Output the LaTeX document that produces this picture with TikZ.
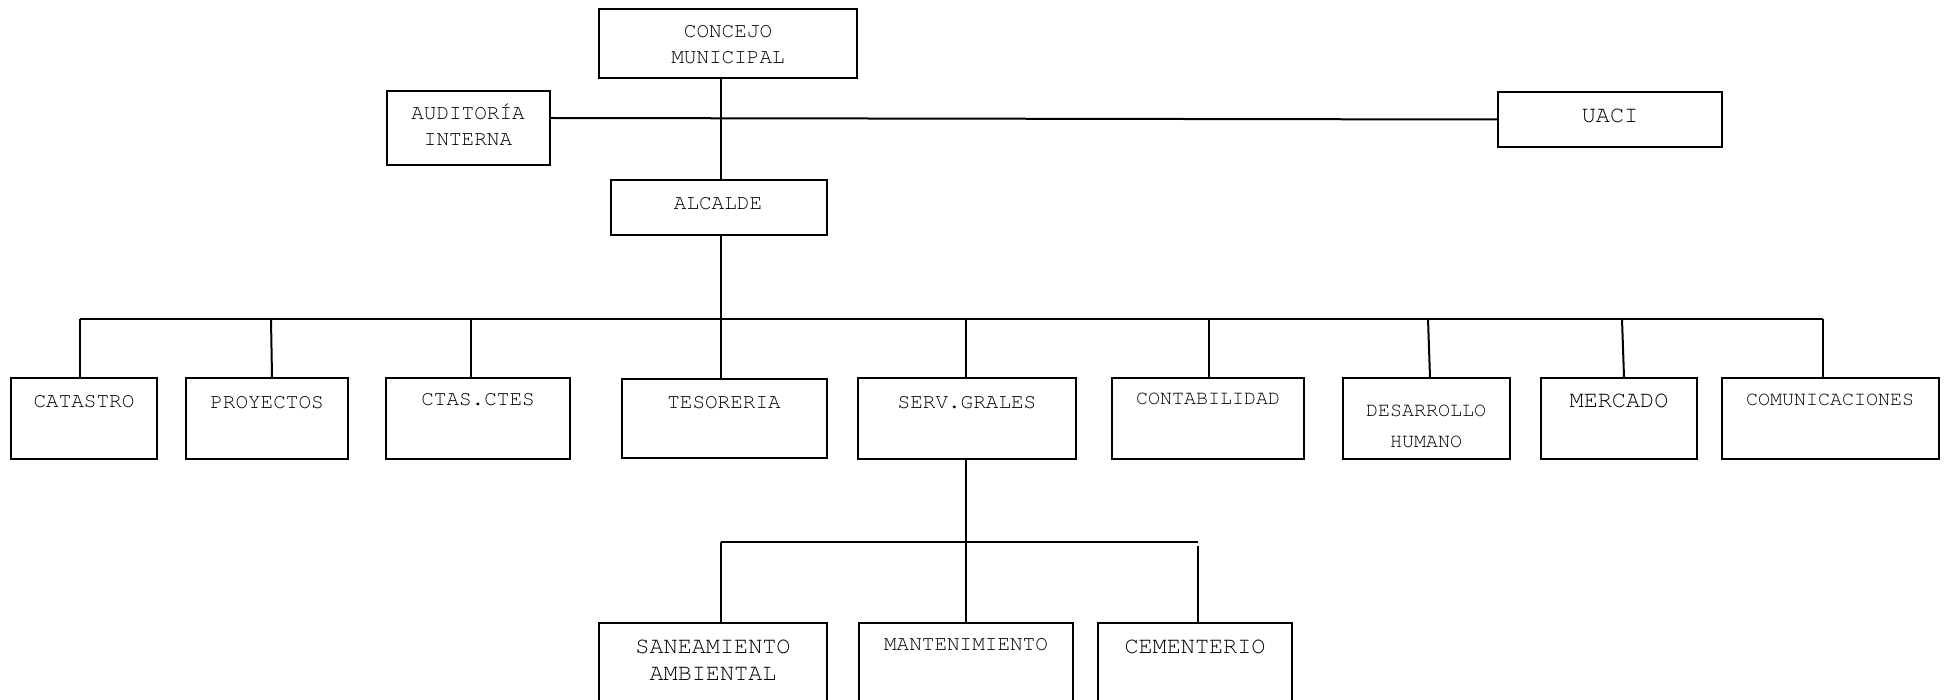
\documentclass[tikz,border=0pt]{standalone}
\usepackage{fontspec}
\newfontfamily\cour{TeX Gyre Cursor}
\usetikzlibrary{fit}
\begin{document}
\begin{tikzpicture}[x=0.5pt,y=-0.5pt,
  box/.style={draw=black,line width=1pt,inner sep=0pt,rectangle},
  ln/.style={draw=black,line width=1pt},
  txt/.style={inner sep=0pt,align=center,text=black,font=\cour\fontsize{10.5}{13}\selectfont},
  txtS/.style={txt,font=\cour\fontsize{10}{15.5}\selectfont},
  txtL/.style={txt,font=\cour\fontsize{11.75}{13.5}\selectfont}]
\useasboundingbox (0,0) rectangle (1945,700);
\clip (0,0) rectangle (1945,700);
\fill[white] (0,0) rectangle (1945,700);
% boxes
\node[box,fit={(599,9)(857,78)}] (con) {};
\node[box,fit={(387,91)(550,165)}] (aud) {};
\node[box,fit={(1498,92)(1722,147)}] (uaci) {};
\node[box,fit={(611,180)(827,235)}] (alc) {};
\node[box,fit={(11,378)(157,459)}] (cat) {};
\node[box,fit={(186,378)(348,459)}] (pro) {};
\node[box,fit={(386,378)(570,459)}] (cta) {};
\node[box,fit={(622,379)(827,458)}] (tes) {};
\node[box,fit={(858,378)(1076,459)}] (ser) {};
\node[box,fit={(1112,378)(1304,459)}] (cnt) {};
\node[box,fit={(1343,378)(1510,459)}] (des) {};
\node[box,fit={(1541,378)(1697,459)}] (mer) {};
\node[box,fit={(1722,378)(1939,459)}] (com) {};
\node[box,fit={(599,623)(827,720)}] (san) {};
\node[box,fit={(859,623)(1073,720)}] (man) {};
\node[box,fit={(1098,623)(1292,720)}] (cem) {};
% texts
\node[txt] (tcon) at (728,45) {CONCEJO\\MUNICIPAL};
\node[txt] (taud) at (468,125) {AUDITORÍA\\INTERNA};
\node[txtL] (tuaci) at (1610,116) {UACI};
\node[txt] (talc) at (718,204) {ALCALDE};
\node[txt] (tcat) at (84,402) {CATASTRO};
\node[txt] (tpro) at (267,403) {PROYECTOS};
\node[txt] (tcta) at (478,400) {CTAS.CTES};
\node[txt] (ttes) at (724,403) {TESORERIA};
\node[txt] (tser) at (967,403) {SERV.GRALES};
\node[txtS] (tcnt) at (1208,399) {CONTABILIDAD};
\node[txtS] (tdes) at (1426,426.5) {DESARROLLO\\HUMANO};
\node[txtL] (tmer) at (1619,401) {MERCADO};
\node[txtS] (tcom) at (1830,400) {COMUNICACIONES};
\node[txtL] (tsan) at (713,660.5) {SANEAMIENTO\\AMBIENTAL};
\node[txt] (tman) at (966,645) {MANTENIMIENTO};
\node[txtL] (tcem) at (1195,647) {CEMENTERIO};
% trunk
\coordinate (tk) at (721,319);
\draw[ln] (tk |- con.south) -- (tk |- alc.north);
\draw[ln] ([yshift=5pt]aud.east) -- (uaci.west);
\draw[ln] (tk |- alc.south) -- (tk);
% bus
\coordinate (d1) at (80,319);
\coordinate (d2) at (271,319);
\coordinate (d3) at (471,319);
\coordinate (d4) at (721,319);
\coordinate (d5) at (966,319);
\coordinate (d6) at (1209,319);
\coordinate (d7) at (1428,319);
\coordinate (d8) at (1622,319);
\coordinate (d9) at (1823,319);
\draw[ln] (d1) -- (d9);
\draw[ln] (d1) -- (d1 |- cat.north);
\draw[ln] (d2) -- ([xshift=0.5pt]d2 |- pro.north);
\draw[ln] (d3) -- (d3 |- cta.north);
\draw[ln] (d4) -- (d4 |- tes.north);
\draw[ln] (d5) -- (d5 |- ser.north);
\draw[ln] (d6) -- (d6 |- cnt.north);
\draw[ln] (d7) -- ([xshift=1pt]d7 |- des.north);
\draw[ln] (d8) -- ([xshift=1pt]d8 |- mer.north);
\draw[ln] (d9) -- (d9 |- com.north);
% sub-branch
\coordinate (s0) at (966,542);
\coordinate (s1) at (721,542);
\coordinate (s3) at (1198,542);
\draw[ln] (s0 |- ser.south) -- (s0);
\draw[ln] (s1) -- (s3);
\draw[ln] (s1) -- (s1 |- san.north);
\draw[ln] (s0) -- (s0 |- man.north);
\draw[ln] ([yshift=-2pt]s3) -- (s3 |- cem.north);
\end{tikzpicture}
\end{document}
